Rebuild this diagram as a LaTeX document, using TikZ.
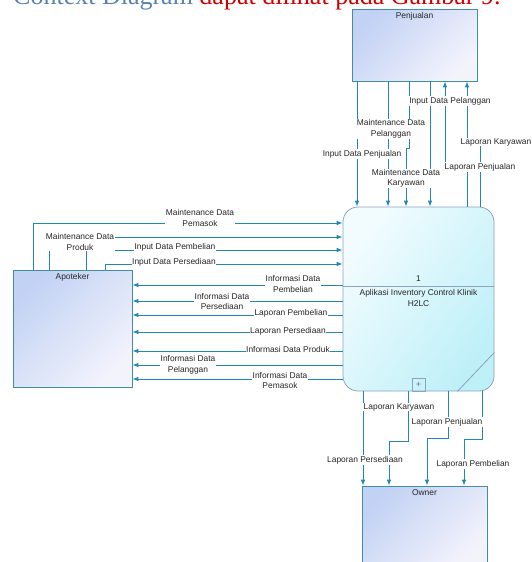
\documentclass[tikz,border=0pt]{standalone}
\usepackage{fontspec}
\setmainfont{Liberation Sans}
\newfontfamily\judulfont{Liberation Serif}
\usetikzlibrary{arrows.meta}
\definecolor{garis}{HTML}{2088B2}
\definecolor{tepi}{HTML}{438E9E}
\definecolor{entbiru}{HTML}{C2D2F4}
\definecolor{entputih}{HTML}{F3F3FC}
\definecolor{procputih}{HTML}{F2FCFF}
\definecolor{proccyan}{HTML}{BEF0F8}
\definecolor{proctepi}{HTML}{8EA3BC}
\definecolor{judulbiru}{HTML}{5A82AE}
\definecolor{judulmerah}{HTML}{D10000}

\begin{document}
\begin{tikzpicture}[x=1pt, y=-1pt,
  entitas/.style={draw=tepi, line width=0.8pt, top color=entbiru, bottom color=entputih, shading angle=45, inner sep=0pt},
  prosesbox/.style={draw=proctepi, line width=0.8pt, rounded corners=15pt, top color=procputih, bottom color=proccyan, shading angle=55, inner sep=0pt},
  judulent/.style={anchor=north, font=\fontsize{8.4}{10.4}\selectfont, text=black!85},
  alur/.style={draw=garis, line width=0.9pt, -{Latex[length=6pt,width=4.6pt]}},
  lbl/.style={fill=white, inner sep=0.6pt, align=center, font=\fontsize{8.4}{10.4}\selectfont, text=black!85},
  teks/.style={align=center, inner sep=0pt, font=\fontsize{8.4}{10.4}\selectfont, text=black!85}]

  \useasboundingbox (0,0) rectangle (531,562);
  \clip (0,0) rectangle (531,562);

  \node[anchor=base west, inner sep=0pt, font=\judulfont\fontsize{26}{30}\selectfont] (judul) at (13,5)
    {\textcolor{judulbiru}{Context Diagram} \textcolor{judulmerah}{dapat dilihat pada Gambar 9.}};

  \node[entitas, minimum width=125, minimum height=72, label={[judulent]north:Penjualan}] (penjualan) at (414.5,45) {};
  \node[entitas, minimum width=119, minimum height=117, label={[judulent]north:Apoteker}] (apoteker) at (72.5,328.5) {};
  \node[entitas, minimum width=125, minimum height=80, label={[judulent]north:Owner}] (owner) at (424.5,526) {};
  \node[prosesbox, minimum width=151, minimum height=184] (proses) at (418.5,299) {};

  \draw[proctepi, line width=0.8pt] (proses.west |- 0,286) -- (proses.east |- 0,286);
  \draw[proctepi, line width=0.8pt] ([xshift=-37pt]proses.south east) -- ([yshift=39pt]proses.south east);
  \node[teks] (nomor) at ([yshift=20pt]proses.center) {1};
  \node[teks] (namaproses) at ([yshift=1pt]proses.center) {Aplikasi Inventory Control Klinik\\H2LC};
  \node[draw=proctepi, line width=0.6pt, minimum size=13, inner sep=0pt, text=black!55, font=\fontsize{9}{9}\selectfont] (tambah) at ([yshift=6.5pt]proses.south) {+};

  \draw[alur] (penjualan.south -| 357,0) -- (proses.north -| 357,0);
  \draw[alur] (penjualan.south -| 388,0) -- (proses.north -| 388,0);
  \draw[alur] (penjualan.south -| 409,0) -- (409,148) -- (406,148) -- (proses.north -| 406,0);
  \draw[alur] (penjualan.south -| 430,0) -- (proses.north -| 430,0);
  \draw[alur] (proses.north -| 467,0) -- (467,165) -- (445,165) -- (penjualan.south -| 445,0);
  \draw[alur] (proses.north -| 480,0) -- (480,145) -- (467,145) -- (penjualan.south -| 467,0);

  \draw[alur] (apoteker.north -| 33,0) -- (33,223) -- (proses.west |- 0,223);
  \draw[alur] (apoteker.north -| 49,0) -- (49,237) -- (proses.west |- 0,237);
  \draw[alur] (apoteker.north -| 86,0) -- (86,250) -- (proses.west |- 0,250);
  \draw[alur] (apoteker.north -| 105,0) -- (105,264) -- (proses.west |- 0,264);

  \draw[alur] (proses.west |- 0,285) -- (apoteker.east |- 0,285);
  \draw[alur] (proses.west |- 0,301) -- (apoteker.east |- 0,301);
  \draw[alur] (proses.west |- 0,315) -- (apoteker.east |- 0,315);
  \draw[alur] (proses.west |- 0,332) -- (apoteker.east |- 0,332);
  \draw[alur] (proses.west |- 0,351) -- (apoteker.east |- 0,351);
  \draw[alur] (proses.west |- 0,365) -- (apoteker.east |- 0,365);
  \draw[alur] (proses.west |- 0,379) -- (apoteker.east |- 0,379);

  \draw[alur] (proses.south -| 363,0) -- (owner.north -| 363,0);
  \draw[alur] (proses.south -| 408,0) -- (408,441) -- (389,441) -- (owner.north -| 389,0);
  \draw[alur] (proses.south -| 448,0) -- (448,438) -- (427,438) -- (owner.north -| 427,0);
  \draw[alur] (proses.south -| 482,0) -- (482,439) -- (464,439) -- (owner.north -| 464,0);

  \node[lbl] (l-ipj) at (362,154) {Input Data Penjualan};
  \node[lbl] (l-mdpl) at (391,129) {Maintenance Data\\Pelanggan};
  \node[lbl] (l-mdk) at (406,178.5) {Maintenance Data\\Karyawan};
  \node[lbl] (l-idpl) at (450,101) {Input Data Pelanggan};
  \node[lbl] (l-lpj1) at (480,167) {Laporan Penjualan};
  \node[lbl] (l-lkr1) at (496,142) {Laporan Karyawan};

  \node[lbl] (l-mdpm) at (200,218) {Maintenance Data\\Pemasok};
  \node[lbl] (l-mdpr) at (80,242) {Maintenance Data\\Produk};
  \node[lbl] (l-idpb) at (175,247) {Input Data Pembelian};
  \node[lbl] (l-idps) at (174,262) {Input Data Persediaan};

  \node[lbl] (l-inpb) at (293,284) {Informasi Data\\Pembelian};
  \node[lbl] (l-inps) at (222,301.5) {Informasi Data\\Persediaan};
  \node[lbl] (l-lpb1) at (291,313) {Laporan Pembelian};
  \node[lbl] (l-lps1) at (288,331) {Laporan Persediaan};
  \node[lbl] (l-inpr) at (288,349) {Informasi Data Produk};
  \node[lbl] (l-inpl) at (188,365) {Informasi Data\\Pelanggan};
  \node[lbl] (l-inpm) at (280,380.5) {Informasi Data\\Pemasok};

  \node[lbl] (l-lkr2) at (399,407) {Laporan Karyawan};
  \node[lbl] (l-lps2) at (365,460) {Laporan Persediaan};
  \node[lbl] (l-lpj2) at (447,422) {Laporan Penjualan};
  \node[lbl] (l-lpb2) at (473,464) {Laporan Pembelian};
\end{tikzpicture}
\end{document}
